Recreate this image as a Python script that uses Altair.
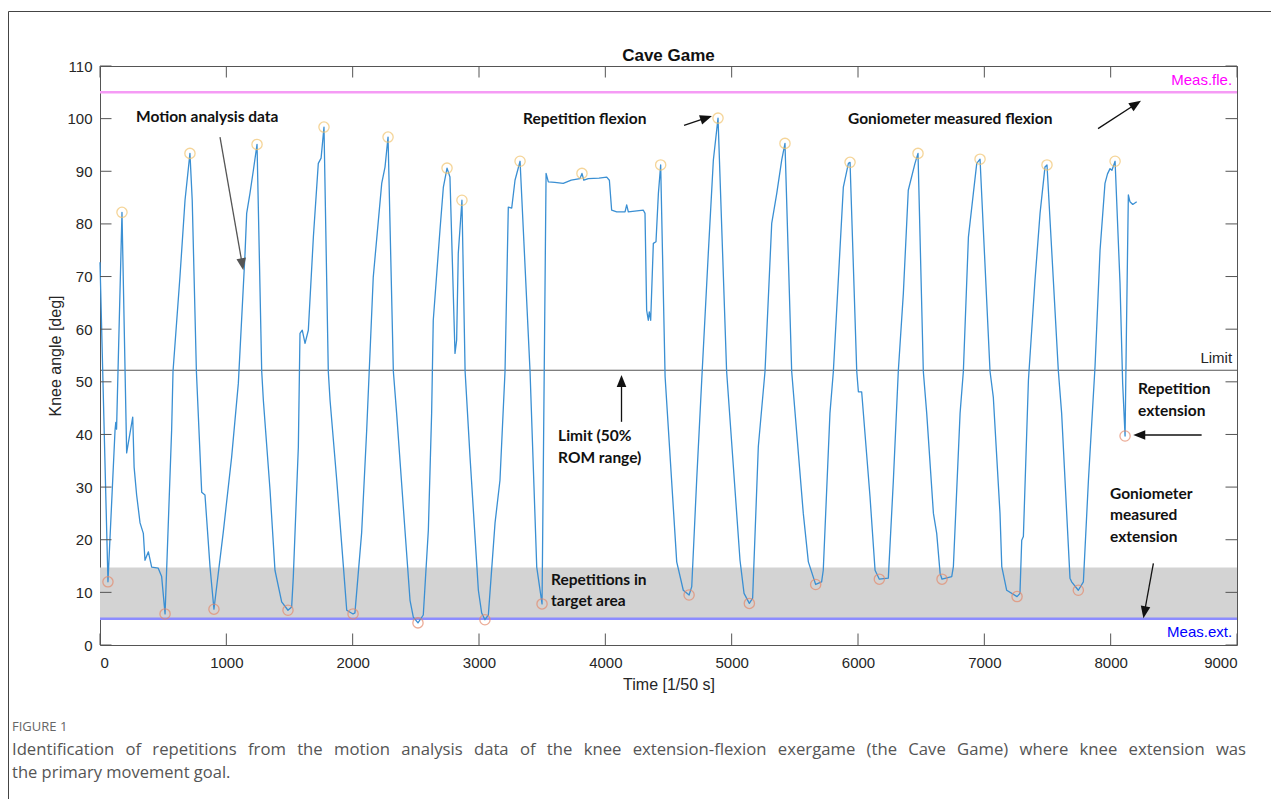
import math
import altair as alt
import pandas as pd

# ---------------- data ----------------
trace_t = [0, 63, 119, 125, 131, 174, 211, 259, 270, 290, 317, 343, 356, 383, 409, 461, 488, 515,
           567, 578, 633, 673, 712, 730, 763, 805, 831, 871, 902,
           976, 1042, 1095, 1148, 1161, 1187, 1214, 1243,
           1280, 1293, 1346, 1385, 1438, 1488, 1517,
           1530, 1570, 1583, 1601, 1623, 1649, 1689, 1728, 1750, 1773,
           1807, 1821, 1874, 1927, 1953, 2003, 2018,
           2071, 2111, 2163, 2230, 2256, 2280,
           2322, 2348, 2414, 2454, 2480, 2517, 2559,
           2599, 2625, 2638, 2691, 2718, 2747, 2770, 2810, 2823, 2836, 2865,
           2890, 2929, 2995, 3021, 3047, 3074,
           3127, 3166, 3206, 3232, 3259, 3285, 3325,
           3404, 3457, 3499,
           3531, 3549, 3600, 3667, 3730, 3799, 3815, 3830, 3865, 3950, 4011, 4032, 4050, 4090, 4156,
           4169, 4182, 4301, 4314, 4327, 4340, 4348, 4359, 4380, 4401, 4420, 4438,
           4473, 4565, 4617, 4663, 4684,
           4723, 4763, 4815, 4855, 4892,
           4960, 5066, 5098, 5140, 5166,
           5211, 5264, 5317, 5357, 5396, 5422,
           5475, 5567, 5607, 5665, 5712, 5725,
           5778, 5805, 5884, 5924, 5937,
           5990, 6003, 6029, 6095, 6135, 6169, 6240,
           6280, 6319, 6359, 6398, 6451, 6475,
           6517, 6544, 6597, 6623, 6650, 6665, 6742, 6755,
           6808, 6834, 6874, 6913, 6940, 6966,
           7045, 7071, 7124, 7138, 7177, 7259, 7282,
           7296, 7309, 7349, 7401, 7441, 7480, 7496,
           7586, 7612, 7652, 7678, 7691, 7744, 7784,
           7824, 7876, 7916, 7955, 7975, 7995, 8010, 8035,
           8074, 8095, 8114, 8125, 8140, 8153, 8175, 8206]
trace_a = [72.7, 12.0, 40.8, 42.3, 41.0, 82.2, 36.5, 43.3, 33.8, 28.5, 23.2, 21.2, 16.1, 17.7, 14.8, 14.6, 13.0, 5.9,
           40.8, 52.0, 70.0, 84.5, 93.4, 84.5, 52.0, 29.0, 28.5, 14.8, 6.8,
           21.5, 35.7, 49.7, 74.4, 82.0, 85.8, 90.2, 95.1,
           52.0, 46.5, 29.4, 14.2, 8.2, 6.6, 7.2,
           12.9, 37.6, 59.2, 59.8, 57.3, 59.8, 77.5, 91.5, 92.5, 98.4,
           52.0, 46.5, 31.3, 14.8, 6.6, 5.9, 6.1,
           21.3, 40.8, 69.9, 87.7, 90.8, 96.5,
           52.0, 44.0, 21.8, 8.5, 5.3, 4.2, 5.7,
           21.8, 44.0, 61.7, 78.8, 87.0, 90.6, 88.9, 55.4, 57.9, 74.4, 84.5,
           52.0, 35.7, 10.4, 6.1, 4.8, 5.7,
           23.2, 31.3, 52.0, 83.2, 83.0, 88.3, 91.9,
           52.0, 14.8, 7.8,
           89.6, 88.0, 87.9, 87.7, 88.3, 88.6, 89.6, 88.3, 88.6, 88.7, 88.9, 88.3, 82.6, 82.3, 82.3,
           83.6, 82.3, 82.6, 82.0, 63.6, 61.7, 63.3, 61.7, 76.3, 76.6, 85.8, 91.2,
           51.0, 15.8, 10.4, 9.5, 11.1,
           31.3, 50.3, 74.4, 92.1, 100.1,
           52.0, 16.1, 9.8, 7.9, 8.9,
           37.7, 52.0, 80.1, 85.8, 92.1, 95.3,
           52.0, 25.0, 15.8, 11.5, 12.0, 14.2,
           44.0, 52.0, 87.0, 91.5, 91.7,
           52.0, 48.1, 48.1, 28.2, 14.2, 12.5, 12.7,
           31.3, 52.0, 66.8, 86.4, 91.5, 93.4,
           52.0, 44.0, 25.0, 21.2, 13.6, 12.5, 13.0, 14.9,
           44.0, 52.0, 77.5, 85.8, 91.5, 92.3,
           52.0, 47.1, 25.0, 14.9, 10.4, 9.2, 9.8,
           19.9, 20.6, 50.3, 69.3, 82.0, 90.8, 91.2,
           52.0, 44.0, 25.0, 12.7, 12.0, 10.4, 12.0,
           31.3, 52.8, 75.0, 87.7, 89.5, 90.5, 90.2, 91.9,
           68.7, 49.7, 39.7, 60.0, 85.5, 84.2, 83.7, 84.2]

peak_t = [174, 712, 1243, 1773, 2280, 2747, 2865, 3325, 3815, 4438, 4892, 5422, 5937, 6475, 6966, 7496, 8035]
peak_a = [82.2, 93.4, 95.1, 98.4, 96.5, 90.6, 84.5, 91.9, 89.6, 91.2, 100.1, 95.3, 91.7, 93.4, 92.3, 91.2, 91.9]
trough_t = [63, 515, 902, 1488, 2003, 2517, 3047, 3499, 4663, 5140, 5665, 6169, 6665, 7259, 7744, 8114]
trough_a = [12.0, 5.9, 6.8, 6.6, 5.9, 4.2, 4.8, 7.8, 9.5, 7.9, 11.5, 12.5, 12.5, 9.2, 10.4, 39.7]

meas_flex = 105.0
meas_ext = 5.0
limit_level = 52.2
target_top = 14.7
x_min, x_max = 0, 9000
y_min, y_max = 0, 110
x_ticks = [0, 1000, 2000, 3000, 4000, 5000, 6000, 7000, 8000, 9000]
y_ticks = [0, 10, 20, 30, 40, 50, 60, 70, 80, 90, 100, 110]

ann_text = ["Motion analysis data", "Repetition flexion", "Goniometer measured flexion",
            "Limit (50%", "ROM range)", "Repetitions in", "target area",
            "Repetition", "extension", "Goniometer", "measured", "extension"]
ann_t = [285, 3348, 5921, 3626, 3626, 3570, 3570, 8217, 8217, 7995, 7995, 7995]
ann_a = [100.3, 99.9, 99.9, 39.8, 35.6, 12.3, 8.3, 48.6, 44.5, 28.7, 24.7, 20.6]

arrow_t1 = [950, 4623, 7900, 4128, 8720, 8338]
arrow_a1 = [96.5, 98.7, 98.1, 42.4, 39.9, 15.5]
arrow_t2 = [1134, 4844, 8240, 4128, 8179, 8259]
arrow_a2 = [71.2, 100.5, 103.4, 51.3, 39.9, 5.1]
arrow_col = ["#555555", "#111111", "#111111", "#111111", "#111111", "#111111"]

ref_text = ["Meas.fle.", "Limit", "Meas.ext."]
ref_t = [8961, 8961, 8961]
ref_a = [107.3, 54.5, 2.5]
ref_col = ["#FF00FF", "#262626", "#0000FF"]

title_text = "Cave Game"
fig_label = "FIGURE 1"
caption_lines = ["Identification of repetitions from the motion analysis data of the knee extension-flexion exergame (the Cave Game) where knee extension was",
                 "the primary movement goal."]

# ---------------- layout ----------------
W, H = 1137, 579
TICK = 11.5
sx, sy = W / (x_max - x_min), H / (y_max - y_min)

xs = alt.Scale(domain=[x_min, x_max], nice=False, zero=False)
ys = alt.Scale(domain=[y_min, y_max], nice=False, zero=False)
x_axis = alt.Axis(values=x_ticks, format="d", labelPadding=10, titlePadding=6)
y_axis = alt.Axis(values=y_ticks, format="d", labelPadding=8, titlePadding=3)
XT, YT = "Time [1/50 s]", "Knee angle [deg]"


def X(f):
    return alt.X(f, type="quantitative", scale=xs, axis=x_axis, title=XT)


def Y(f):
    return alt.Y(f, type="quantitative", scale=ys, axis=y_axis, title=YT)


trace_df = pd.DataFrame({"t": trace_t, "a": trace_a, "i": range(len(trace_t))})
peak_df = pd.DataFrame({"t": peak_t, "a": peak_a})
trough_df = pd.DataFrame({"t": trough_t, "a": trough_a})
band_df = pd.DataFrame({"t": [x_min], "t2": [x_max], "a": [meas_ext], "a2": [target_top]})
ref_df = pd.DataFrame({"t": [x_min] * 3, "t2": [x_max] * 3, "a": [meas_flex, limit_level, meas_ext],
                       "col": ["#F59BF5", "#555555", "#8C8CFF"], "w": [2.6, 1.1, 2.6]})
ann_df = pd.DataFrame({"txt": ann_text, "t": ann_t, "a": ann_a})
reflab_df = pd.DataFrame({"txt": ref_text, "t": ref_t, "a": ref_a, "col": ref_col})

rows = []
for t1, a1, t2, a2, c in zip(arrow_t1, arrow_a1, arrow_t2, arrow_a2, arrow_col):
    dx, dy = (t2 - t1) * sx, -(a2 - a1) * sy
    L = math.hypot(dx, dy)
    ux, uy = dx / L, dy / L
    ang = math.degrees(math.atan2(ux, -uy)) % 360
    tc, ac = t2 - 6 * ux / sx, a2 + 6 * uy / sy
    rows.append({"t": t1, "a": a1, "t2": tc, "a2": ac, "ang": ang, "col": c})
arrow_df = pd.DataFrame(rows)

xt_df = pd.DataFrame({"v": x_ticks})
yt_df = pd.DataFrame({"v": y_ticks})

# justified first caption line: widen the inter-word gaps
cap_line1 = caption_lines[0].replace(" ", " \u2005\u2009")

band = alt.Chart(band_df).mark_rect(color="#D3D3D3").encode(x=X("t"), x2="t2", y=Y("a"), y2="a2")
refs = alt.Chart(ref_df).mark_rule().encode(
    x=X("t"), x2="t2", y=Y("a"),
    color=alt.Color("col:N", scale=None), strokeWidth=alt.StrokeWidth("w:Q", scale=None))
line = alt.Chart(trace_df).mark_line(color="#3A8FD3", strokeWidth=1.3, strokeJoin="round").encode(
    x=X("t"), y=Y("a"), order="i:Q")
peaks = alt.Chart(peak_df).mark_point(shape="circle", size=105, filled=False, color="#F2C46E",
                                      strokeWidth=1.3).encode(x=X("t"), y=Y("a"))
troughs = alt.Chart(trough_df).mark_point(shape="circle", size=105, filled=False, color="#E58A6C",
                                          strokeWidth=1.3).encode(x=X("t"), y=Y("a"))
tick_b = alt.Chart(xt_df).mark_rule(color="#555555", strokeWidth=1).encode(
    x=X("v"), y=alt.value(H), y2=alt.value(H - TICK))
tick_t = alt.Chart(xt_df).mark_rule(color="#555555", strokeWidth=1).encode(
    x=X("v"), y=alt.value(0), y2=alt.value(TICK))
tick_l = alt.Chart(yt_df).mark_rule(color="#555555", strokeWidth=1).encode(
    y=Y("v"), x=alt.value(0), x2=alt.value(TICK))
tick_r = alt.Chart(yt_df).mark_rule(color="#555555", strokeWidth=1).encode(
    y=Y("v"), x=alt.value(W), x2=alt.value(W - TICK))
anns = alt.Chart(ann_df).mark_text(align="left", baseline="middle", font="Lato", fontWeight="bold",
                                   fontSize=15.5, color="#111111").encode(x=X("t"), y=Y("a"), text="txt:N")
shafts = alt.Chart(arrow_df).mark_rule(strokeWidth=1.3).encode(
    x=X("t"), y=Y("a"), x2="t2", y2="a2", color=alt.Color("col:N", scale=None))
heads = alt.Chart(arrow_df).mark_point(shape="M0,-1L0.8,1L-0.8,1Z", size=144, filled=True, opacity=1,
                                       strokeWidth=0).encode(
    x=X("t2"), y=Y("a2"), angle=alt.Angle("ang:Q", scale=None), color=alt.Color("col:N", scale=None))
reflabs = alt.Chart(reflab_df).mark_text(align="right", baseline="middle", font="Liberation Sans",
                                         fontSize=15).encode(
    x=X("t"), y=Y("a"), text="txt:N", color=alt.Color("col:N", scale=None))

one = alt.Data(values=[{"k": 1}])
title = alt.Chart(one).mark_text(align="center", baseline="middle", font="Liberation Sans",
                                 fontWeight="bold", fontSize=17, color="#111111").encode(
    x=alt.value(W / 2), y=alt.value(-10), text=alt.value(title_text))
figlab = alt.Chart(one).mark_text(align="left", baseline="middle", font="Open Sans", fontSize=13,
                                  color="#666666").encode(
    x=alt.value(-88), y=alt.value(661), text=alt.value(fig_label))
cap1 = alt.Chart(one).mark_text(align="left", baseline="middle", font="Open Sans", fontSize=16.7,
                                color="#555555").encode(
    x=alt.value(-88), y=alt.value(684), text=alt.value(cap_line1))
cap2 = alt.Chart(one).mark_text(align="left", baseline="middle", font="Open Sans", fontSize=16.5,
                                color="#555555").encode(
    x=alt.value(-88), y=alt.value(707), text=alt.value(caption_lines[1]))
frame_top = alt.Chart(one).mark_rule(color="#444444", strokeWidth=1).encode(
    x=alt.value(-91.5), x2=alt.value(W + 60), y=alt.value(-54.5))
frame_left = alt.Chart(one).mark_rule(color="#444444", strokeWidth=1).encode(
    x=alt.value(-91.5), y=alt.value(-54.5), y2=alt.value(H + 200))

chart = alt.layer(
    band, refs, line, peaks, troughs, tick_b, tick_t, tick_l, tick_r,
    anns, shafts, heads, reflabs, title, figlab, cap1, cap2, frame_top, frame_left
).properties(
    width=W, height=H,
    autosize=alt.AutoSizeParams(type="none"),
    padding={"left": 92, "top": 58, "right": 34, "bottom": 154},
    background="white",
).configure_view(
    stroke="#555555", strokeWidth=1
).configure_axis(
    grid=False, ticks=False, domain=False,
    labelFont="Liberation Sans", labelFontSize=15, labelColor="#262626",
    titleFont="Liberation Sans", titleFontSize=16, titleFontWeight="normal", titleColor="#262626",
)

chart.save("out.html", embed_options={"renderer": "svg", "actions": False})
